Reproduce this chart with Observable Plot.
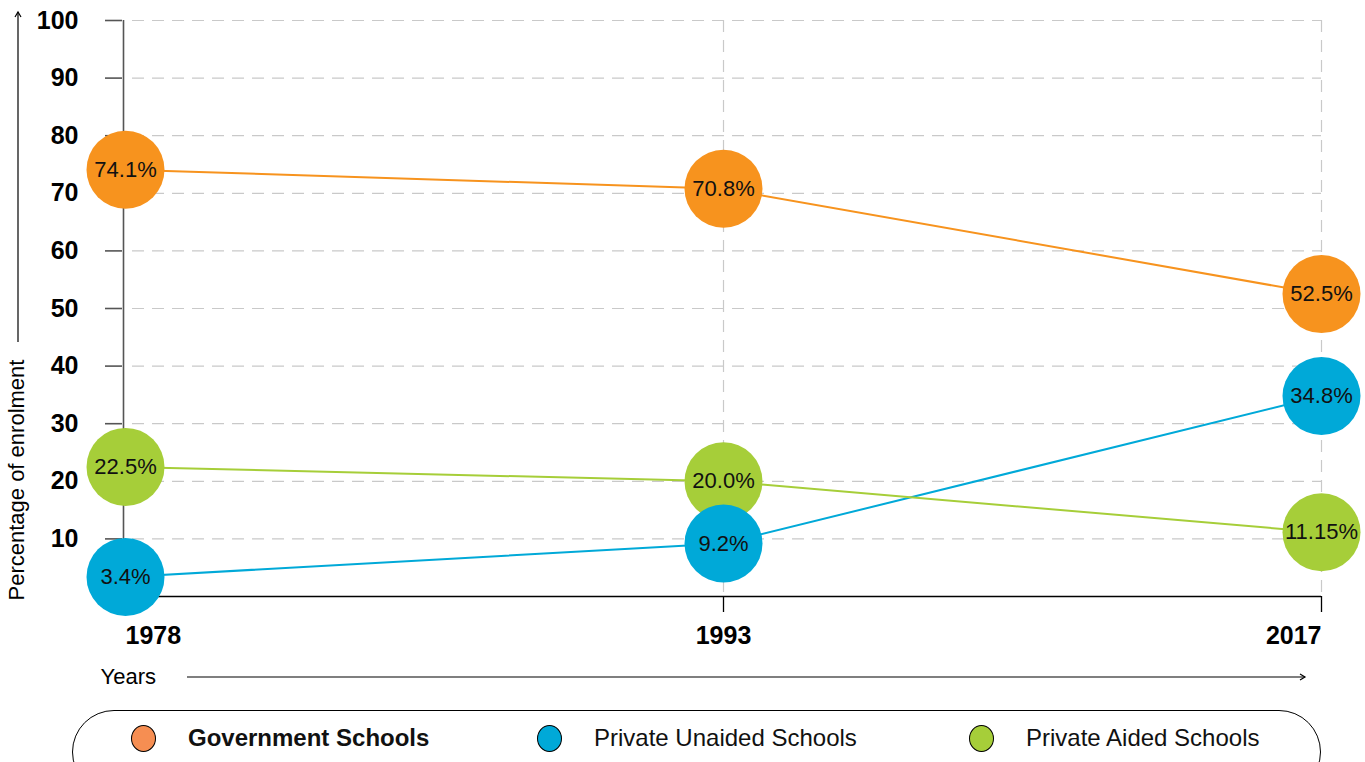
<!DOCTYPE html>
<html><head><meta charset="utf-8">
<script src="https://cdn.jsdelivr.net/npm/d3@7"></script>
<script src="https://cdn.jsdelivr.net/npm/@observablehq/plot@0.6"></script>
<style>
body{margin:0;background:#fff;font-family:"Liberation Sans",Arial,sans-serif;}
#wrap{position:relative;width:1365px;height:762px;overflow:hidden;}
#wrap svg{display:block;}
.legend{position:absolute;left:72px;top:710px;width:1249px;height:84px;border:1.5px solid #000;border-radius:44px;box-sizing:border-box;}
.item{position:absolute;top:13px;display:flex;align-items:center;font-size:24px;color:#111;white-space:nowrap;}
.sw{width:25px;height:27px;border-radius:50%;border:1.3px solid #000;box-sizing:border-box;margin-right:32px;flex:none;}
</style></head><body><div id="wrap"></div>
<script>
// ---- data ----
const years = ["1978", "1993", "2017"];
const seriesNames = ["Government Schools", "Private Unaided Schools", "Private Aided Schools"];
const government = [74.1, 70.8, 52.5];
const privateUnaided = [3.4, 9.2, 34.8];
const privateAided = [22.5, 20.0, 11.15];
const yTicks = [10, 20, 30, 40, 50, 60, 70, 80, 90, 100];
const lineColors = ["#F7931E", "#00A9D8", "#A6CE39"];
const legendColors = ["#F68E52", "#00A9D8", "#A6CE39"];
const yLabel = "Percentage of enrolment";
const xLabel = "Years";

const seriesValues = [government, privateUnaided, privateAided];
const fmt = v => (Number.isInteger(v) ? v.toFixed(1) : String(v)) + "%";
const rows = [];
seriesValues.forEach((vals, i) => vals.forEach((v, j) => rows.push({series: seriesNames[i], year: years[j], value: v, label: fmt(v)})));
// draw order of bubbles: government, aided, unaided
const order = [0, 2, 1];
const dotRows = order.flatMap(i => rows.filter(r => r.series === seriesNames[i]));

const W = 1365, H = 700, mL = 124, mR = 44, mT = 20, mB = 104;
const grid = {stroke: "#c9c9c9", strokeOpacity: 1, strokeDasharray: "12,8", strokeWidth: 1.2};

const chart = Plot.plot({
  width: W, height: H,
  marginLeft: mL, marginRight: mR, marginTop: mT, marginBottom: mB,
  style: {fontFamily: "Liberation Sans, Arial, sans-serif", background: "white", overflow: "visible", color: "#000"},
  x: {type: "point", domain: years, padding: 0, axis: null},
  y: {domain: [0, 100], axis: null},
  color: {domain: seriesNames, range: lineColors},
  marks: [
    Plot.gridY(yTicks, {...grid, insetLeft: 8}),
    Plot.gridX(years.slice(1), grid),
    Plot.ruleX([years[0]], {y1: 0, y2: 100, stroke: "#555", strokeWidth: 1.6, dx: -2}),
    Plot.axisY(yTicks, {anchor: "left", tickSize: 17, tickPadding: 27, stroke: "#555", strokeWidth: 1.6, fill: "#000", fontSize: 25, fontWeight: "bold", label: null, dx: -2}),
    Plot.ruleY([0], {stroke: "#000", strokeWidth: 1.3}),
    Plot.axisX(years, {anchor: "bottom", tickSize: 16, tickFormat: () => "", stroke: "#000", strokeWidth: 1.3, label: null}),
    Plot.text([years[0]], {x: d => d, frameAnchor: "bottom", lineAnchor: "top", dy: 30, textAnchor: "start", fontSize: 25, fontWeight: "bold"}),
    Plot.text([years[1]], {x: d => d, frameAnchor: "bottom", lineAnchor: "top", dy: 30, textAnchor: "middle", fontSize: 25, fontWeight: "bold"}),
    Plot.text([years[2]], {x: d => d, frameAnchor: "bottom", lineAnchor: "top", dy: 30, textAnchor: "end", fontSize: 25, fontWeight: "bold"}),
    Plot.text([xLabel], {frameAnchor: "bottom-left", textAnchor: "start", dx: -24, dy: 87, fontSize: 22}),
    Plot.text([yLabel], {frameAnchor: "bottom-left", rotate: -90, textAnchor: "start", dx: -101, dy: 4, fontSize: 22}),
    Plot.line(rows, {x: "year", y: "value", z: "series", stroke: "series", strokeWidth: 2}),
    Plot.dot(dotRows, {x: "year", y: "value", r: 39, fill: "series", stroke: null}),
    Plot.text(dotRows, {x: "year", y: "value", text: "label", fontSize: 22, fill: "#111"})
  ]
});

// axis-title arrows (decoration)
const svg = d3.select(chart);
const ax = 18;
svg.append("line").attr("x1", ax).attr("x2", ax).attr("y1", 342).attr("y2", 12).attr("stroke", "#000").attr("stroke-width", 1.2);
svg.append("path").attr("d", `M${ax - 3},${17} L${ax},${12} L${ax + 3},${17}`).attr("fill", "none").attr("stroke", "#000").attr("stroke-width", 1.2);
const yy = H - mB + 81;
svg.append("line").attr("x1", 187).attr("x2", 1305).attr("y1", yy).attr("y2", yy).attr("stroke", "#000").attr("stroke-width", 1.2);
svg.append("path").attr("d", `M1300,${yy - 3} L1305,${yy} L1300,${yy + 3}`).attr("fill", "none").attr("stroke", "#000").attr("stroke-width", 1.2);

const wrap = document.getElementById("wrap");
wrap.appendChild(chart);

// legend
const legend = document.createElement("div");
legend.className = "legend";
const itemLefts = [58, 464, 896];
seriesNames.forEach((name, i) => {
  const it = document.createElement("div");
  it.className = "item";
  it.style.left = itemLefts[i] + "px";
  const sw = document.createElement("span");
  sw.className = "sw";
  sw.style.background = legendColors[i];
  const t = document.createElement("span");
  t.textContent = name;
  if (i === 0) t.style.fontWeight = "bold";
  it.appendChild(sw); it.appendChild(t);
  legend.appendChild(it);
});
wrap.appendChild(legend);
</script>
</body></html>
